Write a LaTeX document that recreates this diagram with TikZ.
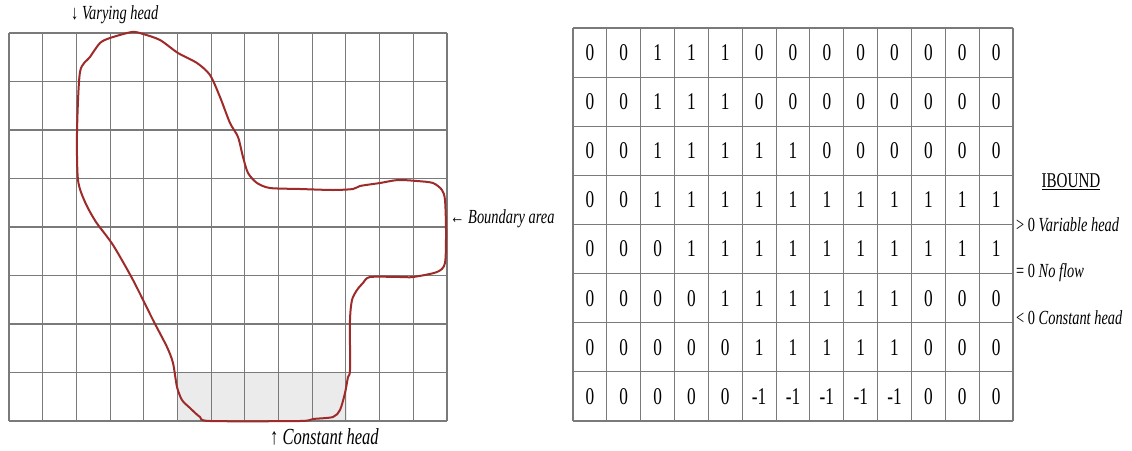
\documentclass[tikz,border=0pt]{standalone}
\usepackage{fontspec}
\usepackage{graphicx}
\setmainfont{Liberation Serif}
\newcommand{\narrow}[1]{\scalebox{0.72}[1]{#1}}
\definecolor{gridc}{HTML}{7A7A7A}
\definecolor{curvec}{HTML}{9E2A2A}
\definecolor{shadec}{HTML}{EBEBEB}
\tikzset{
  gridline/.style={draw=gridc, line width=1.1pt},
  digit/.style={inner sep=0pt, font=\fontsize{24}{26}\selectfont},
  lab/.style={inner sep=0pt, anchor=west, font=\fontsize{20}{22}\selectfont},
  boundary/.style={draw=curvec, line width=2pt, line join=round},
}
\begin{document}
\begin{tikzpicture}[x=1pt, y=-1pt]
\useasboundingbox (0,0) rectangle (1132,450);
% ---------- left grid ----------
\fill[shadec] (178.46,372.5) rectangle (346.9,421);
\foreach \i in {0,...,13} {
  \draw[gridline] ({9+\i*33.692},33) -- ({9+\i*33.692},421);
}
\foreach \j in {0,...,8} {
  \draw[gridline] (9,{33+\j*48.5}) -- (447,{33+\j*48.5});
}
\draw[boundary] plot[smooth cycle, tension=0.45] coordinates {
  (80,72) (90,57) (100,43) (110,38) (132,32) (143,34) (160,40) (178,53)
  (197,63) (210,75) (220,97) (230,123) (238,137) (243,157) (248,173)
  (257,183) (270,188) (300,189) (333,190) (353,189) (360,186) (380,183)
  (398,180) (417,181) (433,183) (442,190) (445,200) (446,230) (445,263)
  (437,272) (413,277) (400,277) (370,277) (363,283) (357,290) (352,300)
  (350,320) (350,370) (348,377) (345,393) (340,410) (333,417) (313,419)
  (300,421) (210,421) (200,417) (190,408) (182,400) (177,387) (173,363)
  (167,347) (153,320) (133,280) (113,245) (96,222) (85,202) (78,180) (77,133)
};
\node[lab] (vary) at (71,15) {\narrow{↓ \textit{Varying head}}};
\node[lab, font=\fontsize{23}{25}\selectfont] (const) at (270,437) {\narrow{↑ \textit{Constant head}}};
\node[lab] (bnd) at (450,219) {\narrow{← \textit{Boundary area}}};
% ---------- right table ----------
\foreach \i in {0,...,13} {
  \draw[gridline] ({573+\i*33.846},28) -- ({573+\i*33.846},421);
}
\foreach \j in {0,...,8} {
  \draw[gridline] (573,{28+\j*49.125}) -- (1013,{28+\j*49.125});
}
\foreach \row [count=\r] in {
  {0,0,1,1,1,0,0,0,0,0,0,0,0},
  {0,0,1,1,1,0,0,0,0,0,0,0,0},
  {0,0,1,1,1,1,1,0,0,0,0,0,0},
  {0,0,1,1,1,1,1,1,1,1,1,1,1},
  {0,0,0,1,1,1,1,1,1,1,1,1,1},
  {0,0,0,0,1,1,1,1,1,1,0,0,0},
  {0,0,0,0,0,1,1,1,1,1,0,0,0},
  {0,0,0,0,0,-1,-1,-1,-1,-1,0,0,0}} {
  \foreach \v [count=\c] in \row {
    \node[digit] (n-\r-\c) at ({573+(\c-0.5)*33.846},{28+(\r-0.5)*49.125}) {\narrow{\v}};
  }
}
\node[inner sep=0pt, font=\fontsize{21}{23}\selectfont] (ibound) at (1071,182) {\narrow{\underline{IBOUND}}};
\node[lab] (gt) at (1016,225) {\narrow{> 0 \textit{Variable head}}};
\node[lab] (eq) at (1016,273) {\narrow{= 0 \textit{No flow}}};
\node[lab] (lt) at (1016,318) {\narrow{< 0 \textit{Constant head}}};
\end{tikzpicture}
\end{document}
